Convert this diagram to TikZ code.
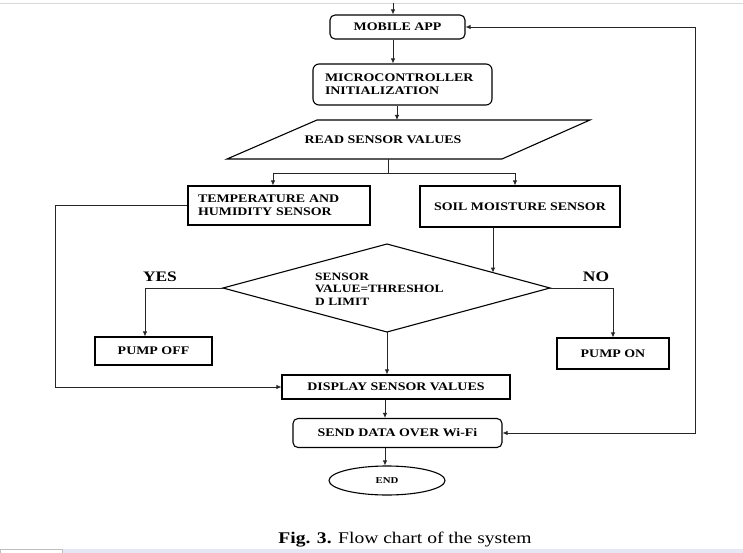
\documentclass[tikz,border=0pt]{standalone}
\usepackage{fontspec}
\setmainfont{Liberation Serif}[FakeStretch=1.2]
\usetikzlibrary{arrows.meta,shapes.geometric,calc}
\definecolor{lav}{RGB}{230,230,244}
\begin{document}
\begin{tikzpicture}[x=1pt,y=-1pt,
  lbl/.style={font=\fontsize{11.6}{13}\selectfont\bfseries},
  box/.style={draw=black, line width=1.1pt, inner sep=0pt, lbl},
  rbox/.style={box, rounded corners=5pt},
  conn/.style={draw=black!85, line width=0.8pt},
  tip/.tip={Latex[length=5pt,width=4.5pt]},
  arr/.style={conn, -tip}]
\useasboundingbox (0,0) rectangle (743,553);
\fill[white] (0,0) rectangle (743,553);
\draw[black!15, line width=0.8pt] (0,3) -- (743,3);
\fill[lav] (62,549) rectangle (743,553);
\draw[black!25, line width=0.6pt] (0.3,549) rectangle (62,553);

% nodes
\node[rbox, minimum width=135pt, minimum height=24pt] (mobile) at (397.5,27) {MOBILE APP};
\node[rbox, rounded corners=6pt, minimum width=179pt, minimum height=41pt, align=left, text width=155pt] (micro) at (402.5,84.5) {MICROCONTROLLER\\INITIALIZATION};

\coordinate (p1) at (227,159);
\coordinate (p2) at (317,120);
\coordinate (p3) at (590,120);
\coordinate (p4) at (502,159);
\draw[line width=1.1pt] (p1) -- (p2) -- (p3) -- (p4) -- cycle;
\node[lbl] (read) at (383,139.5) {READ SENSOR VALUES};

\node[box, minimum width=182pt, minimum height=39pt, align=left, text width=162pt] (temp) at (279,205.5) {TEMPERATURE AND\\HUMIDITY SENSOR};
\node[box, minimum width=200pt, minimum height=41pt] (soil) at (520,206.5) {SOIL MOISTURE SENSOR};

\coordinate (dl) at (223,288);
\coordinate (dt) at (387,244);
\coordinate (dr) at (550,288);
\coordinate (db) at (387,332);
\draw[line width=1.1pt] (dl) -- (dt) -- (dr) -- (db) -- cycle;
\node[anchor=west, align=left, inner sep=0pt, font=\fontsize{11.2}{12.5}\selectfont\bfseries] (cond) at (315,289) {SENSOR\\VALUE=THRESHOL\\D LIMIT};

\node[font=\fontsize{14.5}{16}\selectfont\bfseries, inner sep=0pt] (yes) at (160,276.5) {YES};
\node[font=\fontsize{14.5}{16}\selectfont\bfseries, inner sep=0pt] (no) at (596,276.5) {NO};

\node[box, minimum width=117pt, minimum height=28pt] (poff) at (153.5,351) {PUMP OFF};
\node[box, minimum width=112pt, minimum height=31pt] (pon) at (613,353.5) {PUMP ON};
\node[box, minimum width=228pt, minimum height=24pt] (disp) at (396,387) {DISPLAY SENSOR VALUES};
\node[rbox, minimum width=209pt, minimum height=29pt] (send) at (397.5,433) {SEND DATA OVER Wi-Fi};
\node[ellipse, draw=black, line width=1.1pt, inner sep=0pt, minimum width=116pt, minimum height=29pt, font=\fontsize{9}{10}\selectfont\bfseries] (end) at (387,480.5) {END};

\node[anchor=base, inner sep=0pt, font=\fontsize{16.3}{18}\selectfont] (cap) at (405,543) {\textbf{Fig. 3.} Flow chart of the system};

% connectors
\coordinate (topin) at (393,3);
\draw[arr] (topin) -- (topin |- mobile.north);
\draw[arr] ([xshift=-4.5pt]mobile.south) -- ([xshift=-4.5pt]mobile.south |- micro.north);
\draw[arr] ([xshift=-5.5pt]micro.south) -- ([xshift=-5.5pt]micro.south |- p2);

\coordinate (rb) at (388,159);
\coordinate (split) at (388,173);
\coordinate (tl) at (273,173);
\coordinate (tr) at (515,173);
\draw[conn] (rb) -- (split);
\draw[conn] (tl) -- (tr);
\draw[arr] (tl) -- (tl |- temp.north);
\draw[arr] (tr) -- (tr |- soil.north);

\coordinate (lx) at (55,0);
\draw[arr] (temp.west) -- (temp.west -| lx) |- (disp.west);

\coordinate (s1) at (493,227);
\coordinate (s2) at (493,320);
\coordinate (shit) at (intersection of dt--dr and s1--s2);
\draw[arr] (soil.south -| s1) -- (shit);

\coordinate (yx) at (145,0);
\draw[arr] (dl) -- (dl -| yx) -- (yx |- poff.north);
\coordinate (nx) at (613,0);
\draw[arr] (dr) -- (dr -| nx) -- (nx |- pon.north);

\draw[arr] (db) -- (db |- disp.north);
\draw[arr] ([xshift=-11pt]disp.south) -- ([xshift=-11pt]disp.south |- send.north);
\draw[arr] ([xshift=-12.5pt]send.south) -- ([xshift=-12.5pt]send.south |- end.north);

\coordinate (rx) at (695,0);
\draw[conn, tip-tip] (mobile.east) -- (mobile.east -| rx) -- (rx |- send.east) -- (send.east);
\end{tikzpicture}
\end{document}
